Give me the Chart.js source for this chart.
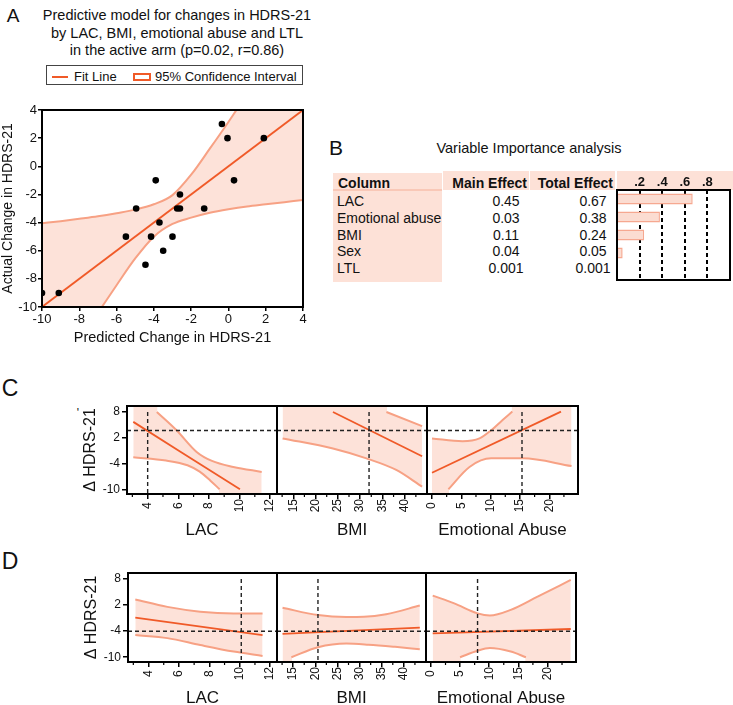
<!DOCTYPE html>
<html>
<head>
<meta charset="utf-8">
<title>HDRS-21 predictive model</title>
<script src="https://cdn.jsdelivr.net/npm/chart.js@4.4.1/dist/chart.umd.min.js"></script>
<style>
  html, body { margin: 0; padding: 0; }
  body { position: relative; width: 733px; height: 705px; overflow: hidden; background: #fff;
         font-family: "Liberation Sans", Arial, sans-serif; color: #111; }
  .t { position: absolute; white-space: nowrap; line-height: 1; transform: translate(-50%, -50%); }
  .tl { position: absolute; white-space: nowrap; line-height: 1; transform: translateY(-50%); }
  .tr { position: absolute; white-space: nowrap; line-height: 1; transform: translate(-100%, -50%); }
  .pink { position: absolute; background: #fde1d7; }
  canvas { position: absolute; }
</style>
</head>
<body>
<!-- panel A -->
<div class="t" style="left:13px;top:15px;font-size:19px">A</div>
<div class="t" style="left:177px;top:15px;font-size:14.5px">Predictive model for changes in HDRS-21</div>
<div class="t" style="left:177px;top:33px;font-size:14.5px">by LAC, BMI, emotional abuse and LTL</div>
<div class="t" style="left:177px;top:50px;font-size:14.5px">in the active arm (p=0.02, r=0.86)</div>
<div style="position:absolute;left:46px;top:65px;width:255px;height:18px;border:1px solid #444"></div>
<div style="position:absolute;left:52px;top:76px;width:16px;height:2px;background:#f05a28"></div>
<div class="tl" style="left:74px;top:76px;font-size:13px">Fit Line</div>
<div style="position:absolute;left:133px;top:73px;width:14px;height:4px;border:2px solid #f05a28"></div>
<div class="tl" style="left:155px;top:76px;font-size:13px">95% Confidence Interval</div>
<canvas id="chartA" width="320" height="250" style="left:0;top:100px"></canvas>

<!-- panel B -->
<div class="t" style="left:336px;top:147px;font-size:21px">B</div>
<div class="t" style="left:529px;top:148px;font-size:14.5px">Variable Importance analysis</div>
<div class="pink" style="left:333px;top:173px;width:109px;height:16px;border-bottom:2px solid #f9c8b7"></div>
<div class="pink" style="left:333px;top:191px;width:109px;height:91px"></div>
<div class="pink" style="left:443px;top:171px;width:86px;height:19px"></div>
<div class="pink" style="left:530px;top:171px;width:85px;height:19px"></div>
<div class="pink" style="left:617px;top:171px;width:116px;height:19px"></div>
<div class="tl" style="left:338px;top:183px;font-size:14px;font-weight:bold">Column</div>
<div class="tr" style="left:527px;top:183px;font-size:14px;font-weight:bold">Main Effect</div>
<div class="tr" style="left:613px;top:183px;font-size:14px;font-weight:bold">Total Effect</div>
<div id="rowsB"></div>
<canvas id="chartB" width="126" height="120" style="left:607px;top:170px"></canvas>

<!-- panel C -->
<div class="t" style="left:10px;top:388px;font-size:23px">C</div>
<div class="t" style="left:78px;top:413px;font-size:12px">'</div>
<canvas id="c1" width="209" height="149" style="left:78px;top:396px"></canvas>
<canvas id="c2" width="170" height="149" style="left:267px;top:396px"></canvas>
<canvas id="c3" width="171" height="149" style="left:417px;top:396px"></canvas>

<!-- panel D -->
<div class="t" style="left:10px;top:561px;font-size:23px">D</div>
<canvas id="d1" width="208" height="150" style="left:79px;top:563px"></canvas>
<canvas id="d2" width="169" height="150" style="left:267px;top:563px"></canvas>
<canvas id="d3" width="170" height="150" style="left:416px;top:563px"></canvas>

<script>
// ---- A: actual vs predicted change ----
const predicted = [-0.35, -0.05, 1.9, 0.3, -3.9, -2.6, -4.95, -2.75, -2.6, -1.3, -3.7, -5.5, -4.15, -3.0, -3.5, -4.45, -9.1, -10];
const actual    = [3, 2, 2, -1, -1, -2, -3, -3, -3, -3, -4, -5, -5, -5, -6, -7, -9, -9];
const aFit   = [[-10, -10], [4, 4]];
const aUpper = [[-10, -4.05], [-9, -3.9], [-8, -3.73], [-7, -3.55], [-6, -3.33], [-5, -3.08], [-4, -2.7],
                [-3, -2.05], [-2, -0.6], [-1, 1.25], [0, 3.15], [0.43, 4]];
const aLower = [[-6.79, -10], [-6, -8.45], [-5, -6.55], [-4, -5.0], [-3, -4.1], [-2, -3.65], [-1, -3.3],
                [0, -3.05], [1, -2.85], [2, -2.7], [3, -2.55], [4, -2.4]];
const aTicks = [-10, -8, -6, -4, -2, 0, 2, 4];

// ---- B: variable importance ----
const variables   = ['LAC', 'Emotional abuse', 'BMI', 'Sex', 'LTL'];
const mainEffect  = [0.45, 0.03, 0.11, 0.04, 0.001];
const totalEffect = [0.67, 0.38, 0.24, 0.05, 0.001];
const importanceTicks = [0.2, 0.4, 0.6, 0.8];

// ---- C and D: prediction profiles ----
const profileTicks = [8, 2, -4, -10];
const lacTicks = [4, 6, 8, 10, 12];
const lacMinor = [3, 5, 7, 9, 11];
const bmiTicks = [15, 20, 25, 30, 35, 40];
const bmiMinor = [12.5, 17.5, 22.5, 27.5, 32.5, 37.5, 42.5];
const eaTicks = [0, 5, 10, 15, 20];
const eaMinor = [2.5, 7.5, 12.5, 17.5, 22.5];

const cCrossX = [4.0, 32.0, 15.35];
const cCrossY = 3.7;
const cLacFit   = [[3.06, 5.7], [10.03, -10]];
const cLacUpper = [[4.6, 8], [5.9, 3.7], [7.2, -1.3], [8.2, -3.4], [9.6, -4.8], [11.45, -5.95]];
const cLacLower = [[3.06, -2.55], [5.2, -3.3], [6.6, -4.4], [7.4, -5.9], [8.1, -8.0], [8.7, -10]];
const cBmiFit   = [[23.9, 8.0], [43.9, -2.3]];
const cBmiUpper = [[35.9, 8.0], [43.9, 4.7]];
const cBmiLower = [[12.6, 1.85], [23.9, -0.5], [31.4, -2.8], [38.1, -5.5], [43.9, -9.4]];
const cEaFit    = [[0, -6.15], [22, 8.1]];
const cEaUpper  = [[0, 1.85], [5.2, 1.2], [8.1, 1.85], [10.1, 3.75], [12.0, 6.1], [13.7, 8.1]];
const cEaLower  = [[2.8, -10], [6.4, -4.8], [10.1, -2.8], [15.5, -2.8], [23.8, -4.6]];

const dCrossX = [10.1, 20.6, 8.0];
const dCrossY = -4;
const dLacFit   = [[3.13, -0.9], [11.5, -4.9]];
const dLacUpper = [[3.13, 3.3], [5.24, 1.6], [7.4, 0.5], [9.6, 0.1], [11.5, 0.1]];
const dLacLower = [[3.13, -4.9], [5.24, -5.6], [7.4, -7.2], [9.6, -8.7], [11.5, -9.7]];
const dBmiFit   = [[12.6, -4.6], [43.6, -3.2]];
const dBmiUpper = [[12.6, 1.4], [20.6, -0.3], [27, -0.75], [31, -0.7], [36, -0.1], [43.6, 1.9]];
const dBmiLower = [[14.6, -10], [20.6, -7.7], [27, -6.85], [32, -7.1], [38, -7.6], [43.6, -8.15]];
const dEaFit    = [[0.3, -4.5], [24, -3.5]];
const dEaUpper  = [[0.3, 4.2], [4, 2.4], [8, 0.1], [10.1, -0.4], [13.7, 0.9], [18.3, 3.95], [24, 7.8]];
const dEaLower  = [[5, -10], [8, -8.5], [10.1, -7.9], [13.7, -8.7], [16.3, -10]];

const FIT = '#f05a28';
const CI = '#f7a184';
const BAND = '#fde2d9';
const Y_MIN = -11.1, Y_MAX = 9.4;   // profile plot y range

Chart.defaults.font.family = '"Liberation Sans", Arial, sans-serif';
Chart.defaults.color = '#111';

const pts = arr => arr.map(([x, y]) => ({x, y}));
const fixedTicks = list => scale => { scale.ticks = list.map(v => ({value: v})); };

// black box round the plot area, plus short minor ticks under the x axis
const framePlugin = {
  id: 'frame',
  afterDatasetsDraw(chart, args, opts) {
    const {ctx, chartArea: a} = chart;
    ctx.save();
    ctx.strokeStyle = '#000';
    if (opts.minor) {
      const xs = chart.scales.x;
      ctx.lineWidth = 1.2;
      opts.minor.forEach(v => {
        const px = xs.getPixelForValue(v);
        ctx.beginPath();
        ctx.moveTo(px, a.bottom);
        ctx.lineTo(px, a.bottom + 3);
        ctx.stroke();
      });
    }
    ctx.lineWidth = 2;
    ctx.strokeRect(a.left, a.top, a.right - a.left, a.bottom - a.top);
    ctx.restore();
  }
};

// fit line, confidence curves and the pink band between them
function curveSets(lead, fit, upper, lower, yTop, yBot) {
  const sets = lead.slice();
  const line = (data, color, width) => ({
    data: pts(data), borderColor: color, borderWidth: width, pointRadius: 0, cubicInterpolationMode: 'monotone'
  });
  sets.push(line(fit, FIT, 1.8));
  const iUp = sets.length;
  sets.push(Object.assign(line(upper, CI, 2), {fill: '+1', backgroundColor: BAND}));
  const iLo = sets.length;
  sets.push(line(lower, CI, 2));

  const u0 = upper[0][0], u1 = upper[upper.length - 1][0];
  const l0 = lower[0][0], l1 = lower[lower.length - 1][0];
  const x0 = Math.min(u0, l0), x1 = Math.max(u1, l1);
  const e = (x1 - x0) * 0.005;
  // where a curve leaves the plot the band runs to the plot edge
  const cap = (xa, xb, y, to) => {
    const i = sets.length;
    sets.push({data: [{x: xa, y}, {x: xb, y}], borderWidth: 0, pointRadius: 0,
               backgroundColor: BAND, fill: String(to - i)});
  };
  if (u0 > x0) cap(x0, u0 + e, yTop, iLo);
  if (u1 < x1) cap(u1 - e, x1, yTop, iLo);
  if (l0 > x0) cap(x0, l0 + e, yBot, iUp);
  if (l1 < x1) cap(l1 - e, x1, yBot, iUp);
  return sets;
}

const dashSet = data => ({data: pts(data), borderColor: '#222', borderWidth: 1.4, borderDash: [4, 3], pointRadius: 0});
// keep the plot box where it is set, whatever the tick labels ask for
const noLabelPadding = s => { s.paddingLeft = 0; s.paddingRight = 0; s.paddingTop = 0; s.paddingBottom = 0; };

// ---- A ----
new Chart(document.getElementById('chartA'), {
  type: 'line',
  data: {
    datasets: curveSets([{
      data: predicted.map((x, i) => ({x, y: actual[i]})),
      showLine: false, pointRadius: 3.3, pointBackgroundColor: '#000', pointBorderWidth: 0
    }], aFit, aUpper, aLower, 4, -10)
  },
  options: {
    responsive: false,
    animation: false,
    layout: {padding: {left: 0, right: 17, top: 10, bottom: 0}},
    plugins: {legend: {display: false}, tooltip: {enabled: false}, filler: {drawTime: 'beforeDatasetsDraw'}, frame: {}},
    scales: {
      x: {
        type: 'linear', min: -10, max: 4,
        afterBuildTicks: fixedTicks(aTicks),
        afterFit: s => { s.height = 43; noLabelPadding(s); },
        ticks: {font: {size: 13}, padding: 1, callback: v => String(v)},
        grid: {drawOnChartArea: false, tickLength: 4, color: '#000', lineWidth: 1.5},
        border: {display: false},
        title: {display: true, text: 'Predicted Change in HDRS-21', font: {size: 14.5}, padding: {top: 0, bottom: 3.5}}
      },
      y: {
        min: -10, max: 4,
        afterBuildTicks: fixedTicks(aTicks),
        afterFit: s => { s.width = 42; noLabelPadding(s); },
        ticks: {font: {size: 13}, padding: 1, callback: v => String(v)},
        grid: {drawOnChartArea: false, tickLength: 4, color: '#000', lineWidth: 1.5},
        border: {display: false},
        title: {display: true, text: 'Actual Change in HDRS-21', font: {size: 14}, padding: {top: 0, bottom: 0}}
      }
    }
  },
  plugins: [framePlugin]
});

// ---- B ----
const rowsB = document.getElementById('rowsB');
function addText(txt, x, y, cls) {
  const d = document.createElement('div');
  d.className = cls;
  d.style.left = x + 'px';
  d.style.top = y + 'px';
  d.style.fontSize = '14px';
  d.textContent = txt;
  rowsB.appendChild(d);
}
variables.forEach((name, i) => {
  const y = 201 + i * 16.8;
  addText(name, 337, y, 'tl');
  addText(String(mainEffect[i]), 506, y, 't');
  addText(String(totalEffect[i]), 593, y, 't');
});

new Chart(document.getElementById('chartB'), {
  type: 'bar',
  data: {
    labels: variables,
    datasets: [{
      data: totalEffect, backgroundColor: '#fbdcd1', borderColor: '#f6a890', borderWidth: 1.5,
      borderSkipped: false, categoryPercentage: 1, barPercentage: 0.6
    }]
  },
  options: {
    indexAxis: 'y',
    responsive: false,
    animation: false,
    layout: {padding: {left: 10, right: 3, top: 0, bottom: 10}},
    plugins: {legend: {display: false}, tooltip: {enabled: false}, frame: {}},
    scales: {
      x: {
        position: 'top', min: 0, max: 1,
        afterBuildTicks: fixedTicks(importanceTicks),
        afterFit: s => { s.height = 20; noLabelPadding(s); },
        ticks: {padding: 0, font: {size: 13, weight: 'bold'}, callback: v => String(v).replace(/^0/, '')},
        grid: {color: '#000', lineWidth: 2, drawTicks: false},
        border: {display: false, dash: [4, 3]}
      },
      y: {display: false}
    }
  },
  plugins: [framePlugin]
});

// ---- C and D ----
function profiler(id, p) {
  const lead = [
    dashSet([[p.cx, 8], [p.cx, Y_MIN]]),
    dashSet([[p.xMin, p.cy], [p.xMax, p.cy]])
  ];
  new Chart(document.getElementById(id), {
    type: 'line',
    data: {datasets: curveSets(lead, p.fit, p.upper, p.lower, Y_MAX, Y_MIN)},
    options: {
      responsive: false,
      animation: false,
      layout: {padding: {left: p.withY ? 0 : 10, right: 10, top: 10, bottom: 0}},
      plugins: {legend: {display: false}, tooltip: {enabled: false}, filler: {drawTime: 'beforeDatasetsDraw'},
                frame: {minor: p.minor}},
      scales: {
        x: {
          type: 'linear', min: p.xMin, max: p.xMax,
          afterBuildTicks: fixedTicks(p.ticks),
          afterFit: s => { s.height = 51; noLabelPadding(s); },
          ticks: {autoSkip: false, minRotation: 90, maxRotation: 90, padding: 0, font: {size: 12},
                  callback: v => (v < 10 ? v + ' ' : String(v))},
          grid: {drawOnChartArea: false, tickLength: 5, color: '#000', lineWidth: 1.5},
          border: {display: false},
          title: {display: true, text: p.title, font: {size: 17}, padding: {top: 0, bottom: 4.8}}
        },
        y: {
          display: !!p.withY, min: Y_MIN, max: Y_MAX,
          afterBuildTicks: fixedTicks(profileTicks),
          afterFit: s => { s.width = p.withY ? 49 : 0; noLabelPadding(s); },
          ticks: {font: {size: 12}, padding: 2, callback: v => String(v)},
          grid: {drawOnChartArea: false, tickLength: 5, color: '#000', lineWidth: 1.5},
          border: {display: false},
          title: {display: true, text: 'Δ HDRS-21', font: {size: 16}, padding: {top: 3, bottom: 0}}
        }
      }
    },
    plugins: [framePlugin]
  });
}

const lacRange = [2.65, 12.45], bmiRange = [11.35, 45], eaRange = [-0.85, 24.9];

profiler('c1', {withY: true, title: 'LAC', xMin: lacRange[0], xMax: lacRange[1], ticks: lacTicks, minor: lacMinor,
                fit: cLacFit, upper: cLacUpper, lower: cLacLower, cx: cCrossX[0], cy: cCrossY});
profiler('c2', {title: 'BMI', xMin: bmiRange[0], xMax: bmiRange[1], ticks: bmiTicks, minor: bmiMinor,
                fit: cBmiFit, upper: cBmiUpper, lower: cBmiLower, cx: cCrossX[1], cy: cCrossY});
profiler('c3', {title: 'Emotional Abuse', xMin: eaRange[0], xMax: eaRange[1], ticks: eaTicks, minor: eaMinor,
                fit: cEaFit, upper: cEaUpper, lower: cEaLower, cx: cCrossX[2], cy: cCrossY});

profiler('d1', {withY: true, title: 'LAC', xMin: lacRange[0], xMax: lacRange[1], ticks: lacTicks, minor: lacMinor,
                fit: dLacFit, upper: dLacUpper, lower: dLacLower, cx: dCrossX[0], cy: dCrossY});
profiler('d2', {title: 'BMI', xMin: bmiRange[0], xMax: bmiRange[1], ticks: bmiTicks, minor: bmiMinor,
                fit: dBmiFit, upper: dBmiUpper, lower: dBmiLower, cx: dCrossX[1], cy: dCrossY});
profiler('d3', {title: 'Emotional Abuse', xMin: eaRange[0], xMax: eaRange[1], ticks: eaTicks, minor: eaMinor,
                fit: dEaFit, upper: dEaUpper, lower: dEaLower, cx: dCrossX[2], cy: dCrossY});
</script>
</body>
</html>
